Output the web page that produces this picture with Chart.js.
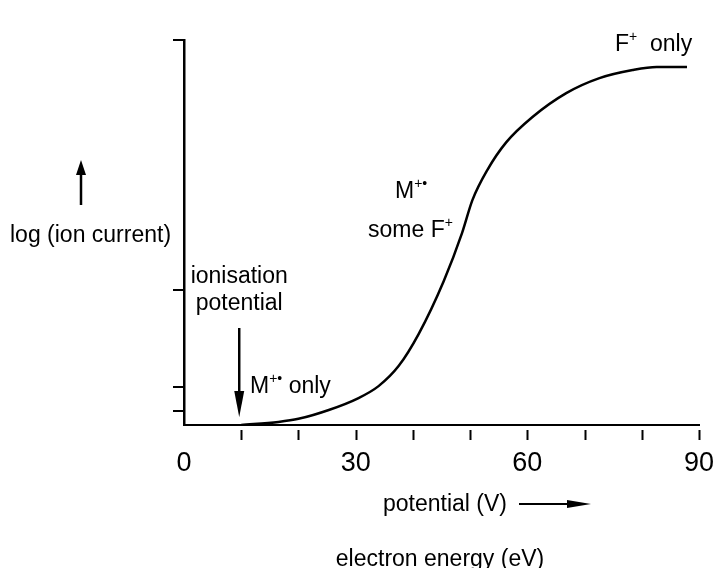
<!DOCTYPE html>
<html>
<head>
<meta charset="utf-8">
<script src="https://cdn.jsdelivr.net/npm/chart.js@4/dist/chart.umd.min.js"></script>
<style>
  html, body { margin: 0; padding: 0; background: #fff; }
  #wrap { width: 718px; height: 568px; position: relative; }
</style>
</head>
<body>
<div id="wrap"><canvas id="chart-ie"></canvas></div>
<script>
/* Ionisation efficiency curve: log(ion current) vs electron energy */

// data
const energy     = [10, 16.5, 20, 25.3, 30.5, 34, 37.5, 41, 45.4, 48.6, 50.4, 53, 56.3, 60.9, 66.8, 72.6, 78.4, 82.6, 87.9];
const logCurrent = [0, 0.8, 1.6, 3.9, 7.0, 10.1, 15.3, 23.6, 37.4, 49.9, 58.4, 66.2, 73.4, 80.0, 86.2, 90.1, 92.2, 93.0, 93.0];
const xTickLabels = [0, 30, 60, 90];
const yTickValues = [3.6, 10, 35, 100];

const FONT = '"Liberation Sans", Arial, Helvetica, sans-serif';
const INK  = '#000';

// little helper for text with superscripts
function drawRich(ctx, parts, x, y, size) {
  let cx = x;
  parts.forEach(p => {
    const s = p.sup ? Math.round(size * 0.62) : size;
    ctx.font = s + 'px ' + FONT;
    ctx.fillText(p.t, cx, p.sup ? y - size * 0.42 : y);
    cx += ctx.measureText(p.t).width;
  });
}

function arrowHead(ctx, x, y, dir, len, half) {
  ctx.beginPath();
  if (dir === 'up')    { ctx.moveTo(x, y); ctx.lineTo(x - half, y + len); ctx.lineTo(x + half, y + len); }
  if (dir === 'down')  { ctx.moveTo(x, y); ctx.lineTo(x - half, y - len); ctx.lineTo(x + half, y - len); }
  if (dir === 'right') { ctx.moveTo(x, y); ctx.lineTo(x - len, y - half); ctx.lineTo(x - len, y + half); }
  ctx.closePath();
  ctx.fill();
}

// x tick marks sit a little below the axis line
const gapTicks = {
  id: 'gapTicks',
  afterDraw(chart) {
    const { ctx, scales: { x }, chartArea } = chart;
    ctx.save();
    ctx.strokeStyle = INK;
    ctx.lineWidth = 2;
    x.ticks.forEach(t => {
      if (t.value === 0) return;
      const px = Math.round(x.getPixelForValue(t.value)) + 0.5;
      ctx.beginPath();
      ctx.moveTo(px, chartArea.bottom + 5);
      ctx.lineTo(px, chartArea.bottom + 15);
      ctx.stroke();
    });
    ctx.restore();
  }
};

// labels, arrows and axis captions
const notes = {
  id: 'notes',
  afterDraw(chart) {
    const { ctx, scales: { x } } = chart;
    const S = 23;
    ctx.save();
    ctx.fillStyle = INK;
    ctx.strokeStyle = INK;
    ctx.textBaseline = 'alphabetic';
    ctx.textAlign = 'left';

    // y caption with up arrow
    ctx.font = S + 'px ' + FONT;
    ctx.fillText('log (ion current)', 10, 242);
    ctx.lineWidth = 2.5;
    ctx.beginPath(); ctx.moveTo(81, 205); ctx.lineTo(81, 172); ctx.stroke();
    arrowHead(ctx, 81, 160, 'up', 15, 5);

    // ionisation potential
    const ipx = x.getPixelForValue(energy[0]) - 2;
    ctx.textAlign = 'center';
    ctx.fillText('ionisation', ipx, 283);
    ctx.fillText('potential', ipx, 310);
    ctx.beginPath(); ctx.moveTo(ipx, 328); ctx.lineTo(ipx, 400); ctx.stroke();
    arrowHead(ctx, ipx, 417, 'down', 26, 5);

    ctx.textAlign = 'left';
    drawRich(ctx, [{ t: 'M' }, { t: '+', sup: true }, { t: '\u2022', sup: true }, { t: ' only' }], 250, 393, S);
    drawRich(ctx, [{ t: 'M' }, { t: '+', sup: true }, { t: '\u2022', sup: true }], 395, 198, S);
    drawRich(ctx, [{ t: 'some F' }, { t: '+', sup: true }], 368, 237, S);
    drawRich(ctx, [{ t: 'F' }, { t: '+', sup: true }, { t: '  only' }], 615, 51, S);

    // x captions
    ctx.font = S + 'px ' + FONT;
    ctx.fillText('potential (V)', 383, 511);
    ctx.lineWidth = 2;
    ctx.beginPath(); ctx.moveTo(519, 504); ctx.lineTo(575, 504); ctx.stroke();
    arrowHead(ctx, 591, 504, 'right', 24, 4);
    ctx.textAlign = 'center';
    ctx.fillText('electron energy (eV)', 440, 566);
    ctx.restore();
  }
};

const ctx = document.getElementById('chart-ie').getContext('2d');
new Chart(ctx, {
  type: 'line',
  data: {
    datasets: [{
      data: energy.map((e, i) => ({ x: e, y: logCurrent[i] })),
      borderColor: INK,
      borderWidth: 2.5,
      pointRadius: 0,
      fill: false,
      cubicInterpolationMode: 'monotone',
    }]
  },
  options: {
    responsive: true,
    maintainAspectRatio: false,
    animation: false,
    events: [],
    layout: { padding: { top: 40, left: 173, right: 19, bottom: 83 } },
    plugins: { legend: { display: false }, tooltip: { enabled: false } },
    scales: {
      x: {
        type: 'linear',
        min: 0, max: 90,
        afterFit: s => { s.height = 60; s.paddingLeft = 0; s.paddingRight = 0; },
        border: { color: INK, width: 2 },
        grid: { display: true, drawOnChartArea: false, drawTicks: false },
        ticks: {
          stepSize: 10,
          padding: 22,
          color: INK,
          font: { family: FONT, size: 27 },
          maxRotation: 0,
          autoSkip: false,
          callback: v => xTickLabels.includes(v) ? String(v) : ''
        }
      },
      y: {
        min: 0, max: 100,
        afterFit: s => { s.width = 11; s.paddingTop = 0; s.paddingBottom = 0; },
        afterBuildTicks: s => { s.ticks = yTickValues.map(v => ({ value: v })); },
        border: { color: INK, width: 2.5 },
        grid: { drawOnChartArea: false, color: INK, lineWidth: 2, tickLength: 11 },
        ticks: { display: false }
      }
    }
  },
  plugins: [gapTicks, notes]
});
</script>
</body>
</html>
